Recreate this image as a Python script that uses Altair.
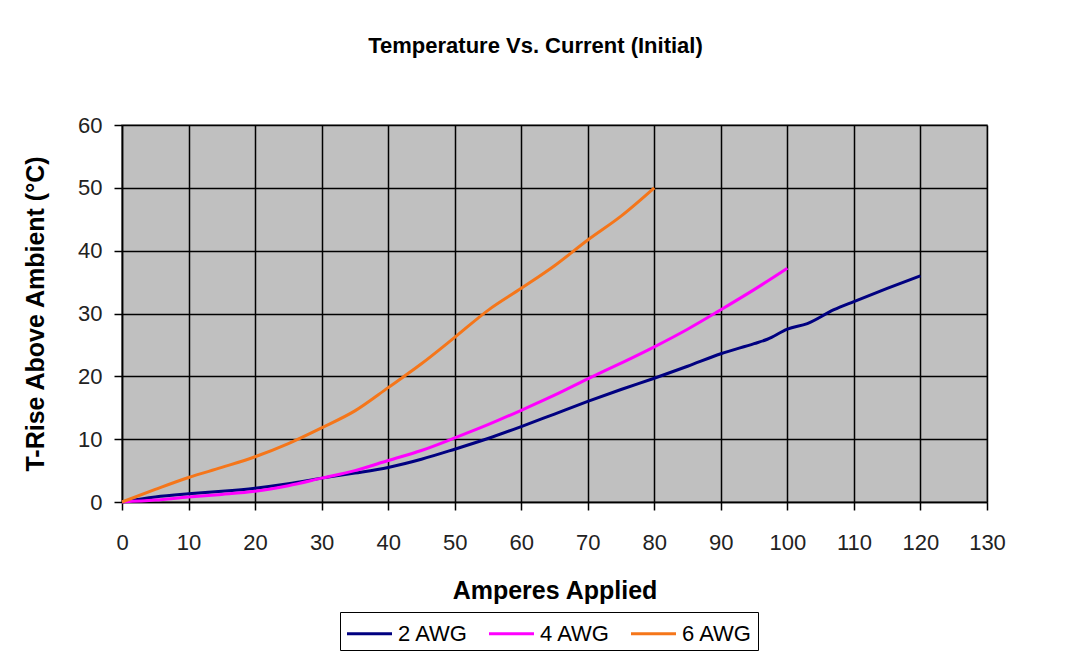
import altair as alt
import pandas as pd

# ---- data ----
amps_2awg = [0, 5, 10, 15, 20, 25, 30, 35, 40, 45, 50, 55, 60, 65, 70, 75, 80, 85, 90, 95, 97, 100, 103, 107, 110, 115, 120]
rise_2awg = [0, 0.8, 1.3, 1.7, 2.2, 2.9, 3.8, 4.6, 5.5, 6.8, 8.4, 10.1, 12.0, 14.0, 16.0, 17.9, 19.7, 21.6, 23.6, 25.2, 25.9, 27.5, 28.4, 30.6, 31.9, 34.0, 36.0]

amps_4awg = [0, 5, 10, 15, 20, 25, 30, 35, 40, 45, 50, 55, 60, 65, 70, 75, 80, 85, 90, 95, 100]
rise_4awg = [0, 0.3, 0.8, 1.2, 1.7, 2.6, 3.8, 5.0, 6.6, 8.2, 10.2, 12.3, 14.6, 17.0, 19.6, 22.1, 24.7, 27.5, 30.6, 33.8, 37.2]

amps_6awg = [0, 5, 10, 15, 20, 25, 30, 35, 40, 45, 50, 55, 60, 65, 70, 75, 80]
rise_6awg = [0, 2.0, 3.9, 5.5, 7.2, 9.3, 11.8, 14.5, 18.2, 22.0, 26.2, 30.5, 34.0, 37.6, 41.7, 45.5, 50.0]

series_names = ["2 AWG", "4 AWG", "6 AWG"]
series_colors = ["#000080", "#FF00FF", "#F5761A"]
x_ticks = list(range(0, 131, 10))
y_ticks = list(range(0, 61, 10))

rows = []
for name, xs, ys in zip(series_names,
                        [amps_2awg, amps_4awg, amps_6awg],
                        [rise_2awg, rise_4awg, rise_6awg]):
    for i, (a, r) in enumerate(zip(xs, ys)):
        rows.append({"Series": name, "Amps": a, "Rise": r, "order": i})
df = pd.DataFrame(rows)

FONT = "Liberation Sans"

chart = alt.Chart(df).mark_line(strokeWidth=3, clip=False, interpolate="monotone").encode(
    x=alt.X("Amps:Q",
            scale=alt.Scale(domain=[0, 130], nice=False, zero=True),
            axis=alt.Axis(values=x_ticks, title="Amperes Applied",
                          titleY=88, titleBaseline="middle",
                          labelFlush=False, labelPadding=22)),
    y=alt.Y("Rise:Q",
            scale=alt.Scale(domain=[0, 60], nice=False),
            axis=alt.Axis(values=y_ticks, title="T-Rise Above Ambient (°C)",
                          titleX=-87, titleBaseline="middle", titleAngle=-90,
                          labelFlush=False, labelPadding=12)),
    color=alt.Color("Series:N",
                    scale=alt.Scale(domain=series_names, range=series_colors),
                    legend=alt.Legend(title=None, orient="none",
                                      legendX=218, legendY=487,
                                      direction="horizontal",
                                      symbolType="M-1.5,0H1.5",
                                      symbolSize=900,
                                      symbolStrokeWidth=3,
                                      symbolOffset=8,
                                      labelOffset=12,
                                      columnPadding=14,
                                      labelFontSize=22, labelFont=FONT,
                                      labelColor="black",
                                      strokeColor="black", fillColor="white",
                                      padding=5)),
    order="order:Q",
).properties(
    width=865, height=377,
    background="white",
    title=alt.TitleParams("Temperature Vs. Current (Initial)",
                          anchor="middle", frame="group", dx=-19, offset=56,
                          font=FONT, fontSize=22, fontWeight="bold",
                          color="black"),
    autosize=alt.AutoSizeParams(type="none"),
    padding={"left": 114, "top": 117, "right": 60, "bottom": 150},
).configure_view(
    fill="#C0C0C0", stroke="#808080", strokeWidth=1.5
).configure_axis(
    grid=True, gridColor="black", gridWidth=1.5, gridOpacity=1,
    domainColor="black", domainWidth=1.5,
    tickColor="black", tickSize=8, tickWidth=1.5,
    labelFont=FONT, labelFontSize=22, labelColor="#222222",
    titleFont=FONT, titleFontSize=25, titleFontWeight="bold", titleColor="black",
)

chart.save("out.html", embed_options={"renderer": "svg", "actions": False})
